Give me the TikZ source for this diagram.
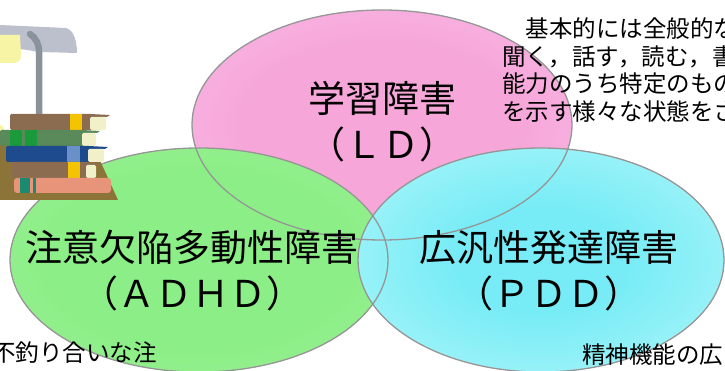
\documentclass[tikz,border=0pt]{standalone}
\usepackage{fontspec}
\setmainfont{Noto Sans CJK JP}

\definecolor{ldin}{RGB}{246,166,216}
\definecolor{ldout}{RGB}{252,206,250}
\definecolor{adin}{RGB}{140,238,134}
\definecolor{adout}{RGB}{170,247,166}
\definecolor{pdin}{RGB}{120,236,246}
\definecolor{pdout}{RGB}{210,252,252}
\definecolor{rimgray}{RGB}{150,150,150}
\definecolor{shadegray}{RGB}{188,192,204}
\definecolor{polegray}{RGB}{138,146,156}
\definecolor{bulbyellow}{RGB}{247,245,165}
\definecolor{desk}{RGB}{140,115,55}
\definecolor{pagecream}{RGB}{242,240,200}
\definecolor{bookbrown}{RGB}{140,108,80}
\definecolor{bookgreen}{RGB}{90,138,90}
\definecolor{bookblue}{RGB}{30,74,142}
\definecolor{booksalmon}{RGB}{232,148,122}
\definecolor{bandyellow}{RGB}{245,196,0}
\definecolor{banddkgreen}{RGB}{26,154,58}
\definecolor{bandlblue}{RGB}{106,144,200}
\definecolor{bandteal}{RGB}{26,138,112}

\pgfdeclareradialshading{ldglow}{\pgfpoint{0bp}{0bp}}{color(0bp)=(ldin);color(18bp)=(ldin);color(50bp)=(ldout)}
\pgfdeclareradialshading{adglow}{\pgfpoint{0bp}{0bp}}{color(0bp)=(adin);color(20bp)=(adin);color(50bp)=(adout)}
\pgfdeclareradialshading{pdglow}{\pgfpoint{0bp}{0bp}}{color(0bp)=(pdin);color(12bp)=(pdin);color(50bp)=(pdout)}

\begin{document}
\begin{tikzpicture}[x=1pt,y=-1pt,
  blob/.style={draw=rimgray,line width=1.3pt},
  title/.style={font=\fontsize{37}{46}\selectfont,align=center,inner sep=0pt},
  note/.style={font=\fontsize{23.5}{27.7}\selectfont,align=left,inner sep=0pt}]
\useasboundingbox (0,0) rectangle (725,371);

\coordinate (ld) at (382,125);
\coordinate (adhd) at (199,260);
\coordinate (pdd) at (541,260);

% filled ellipses, back to front, then all rims on top
\fill[shading=ldglow] (ld) ellipse [x radius=190,y radius=115];
\fill[shading=adglow] (adhd) ellipse [x radius=189,y radius=112];
\fill[shading=pdglow] (pdd) ellipse [x radius=183,y radius=112];
\draw[blob] (ld) ellipse [x radius=190,y radius=115];
\draw[blob] (adhd) ellipse [x radius=189,y radius=112];
\draw[blob] (pdd) ellipse [x radius=183,y radius=112];

% desk lamp
\fill[shadegray] (0,25) -- (66,28) .. controls (74,30) and (77,42) .. (77,53) -- (40,52) -- (0,46) -- cycle;
\fill[bulbyellow] (0,35) -- (20,35) -- (21,55) .. controls (21,62) and (17,63) .. (12,63) -- (0,63) -- cycle;
\draw[polegray,line width=6.5pt,line cap=round] (30,34) .. controls (36,38) and (39,44) .. (39,52) -- (39,114);
\fill[bulbyellow] (0,129) circle (4);

% desk and pile of books
\fill[desk] (0,143) -- (92,143) -- (118,200) -- (0,200) -- cycle;
\foreach \yt/\xl/\xp/\xr/\cov/\bnd/\ba/\bb/\bc/\bd in {
  114/10/90/110/bookbrown/bandyellow/70/82/70/82,
  130/0/82/100/bookgreen/banddkgreen/10/22/25/37,
  146/6/88/108/bookblue/bandlblue/67/80/67/80,
  162/12/86/100/bookbrown/bandyellow/68/80/68/80}
{
  \fill[\cov,rounded corners=1.5pt] (\xl,\yt) rectangle (\xp+2,\yt+16);
  \fill[\cov] (\xp,\yt) -- (\xr,\yt+1) -- (\xr-3,\yt+3) -- (\xp,\yt+3) -- cycle;
  \fill[pagecream,rounded corners=1.5pt] (\xp,\yt+3) rectangle (\xr-4,\yt+16);
  \fill[\bnd] (\ba,\yt) rectangle (\bb,\yt+16);
  \fill[\bnd] (\bc,\yt) rectangle (\bd,\yt+16);
}
\fill[booksalmon,rounded corners=3pt] (14,178) rectangle (111,193);
\fill[bandteal] (20,178) rectangle (30,193);
\fill[bandteal] (33,178) rectangle (36,193);

% labels
\node[title] (ldtext) at (382,122) {学習障害\\（ＬＤ）};
\node[title] (adhdtext) at (192,271) {注意欠陥多動性障害\\（ＡＤＨＤ）};
\node[title] (pddtext) at (549,271) {広汎性発達障害\\（ＰＤＤ）};

\node[note,anchor=north west] (about) at (502,17.5) {　基本的には全般的な\\聞く，話す，読む，書\\能力のうち特定のもの\\を示す様々な状態をさ};
\node[note,anchor=base west] (adhdnote) at (-8,361) {不釣り合いな注};
\node[note,anchor=base west] (pddnote) at (582,363) {精神機能の広};
\end{tikzpicture}
\end{document}
